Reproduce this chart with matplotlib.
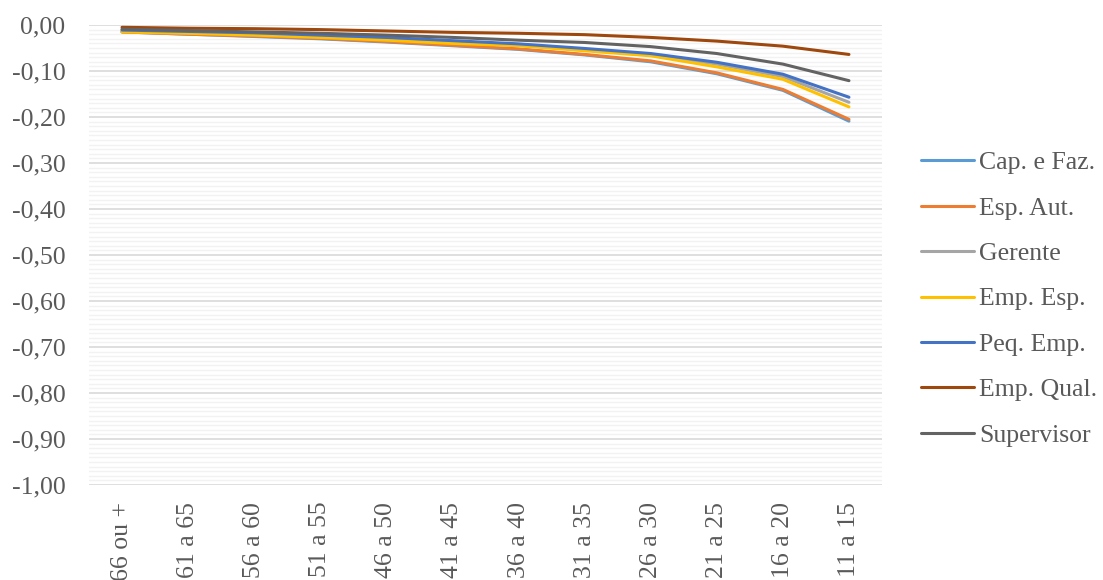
import numpy as np
import matplotlib.pyplot as plt
from matplotlib.ticker import MultipleLocator, FuncFormatter

faixas = ['66 ou +', '61 a 65', '56 a 60', '51 a 55', '46 a 50', '41 a 45',
          '36 a 40', '31 a 35', '26 a 30', '21 a 25', '16 a 20', '11 a 15']

cap_faz = [-0.015, -0.020, -0.025, -0.030, -0.037, -0.045, -0.053, -0.065, -0.080, -0.106, -0.142, -0.209]
esp_aut = [-0.015, -0.020, -0.024, -0.029, -0.036, -0.044, -0.052, -0.064, -0.078, -0.104, -0.140, -0.205]
gerente = [-0.013, -0.017, -0.021, -0.026, -0.031, -0.038, -0.044, -0.053, -0.064, -0.085, -0.112, -0.168]
emp_esp = [-0.015, -0.018, -0.022, -0.027, -0.033, -0.040, -0.045, -0.056, -0.067, -0.091, -0.118, -0.178]
peq_emp = [-0.011, -0.014, -0.017, -0.022, -0.027, -0.034, -0.041, -0.051, -0.062, -0.081, -0.107, -0.157]
emp_qual = [-0.005, -0.007, -0.008, -0.010, -0.013, -0.016, -0.018, -0.021, -0.027, -0.035, -0.046, -0.064]
supervisor = [-0.009, -0.012, -0.015, -0.018, -0.022, -0.027, -0.033, -0.038, -0.047, -0.062, -0.085, -0.121]

series = [
    ('Cap. e Faz.', cap_faz, '#5B9BD5'),
    ('Esp. Aut.', esp_aut, '#ED7D31'),
    ('Gerente', gerente, '#A5A5A5'),
    ('Emp. Esp.', emp_esp, '#FFC000'),
    ('Peq. Emp.', peq_emp, '#4472C4'),
    ('Emp. Qual.', emp_qual, '#9E480E'),
    ('Supervisor', supervisor, '#636363'),
]

plt.rcParams['font.family'] = ['Liberation Serif', 'DejaVu Serif']

fig = plt.figure(figsize=(11.03, 5.8), dpi=100)
ax = fig.add_axes([89 / 1103, 1 - 485 / 580, (882 - 89) / 1103, 460 / 580])

x = np.arange(len(faixas))
for nome, vals, cor in series:
    ax.plot(x, vals, color=cor, lw=2.2, label=nome, solid_capstyle='round')

ax.set_xlim(-0.5, len(faixas) - 0.5)
ax.set_ylim(-1.0, 0.0)
ax.yaxis.set_major_locator(MultipleLocator(0.1))
ax.yaxis.set_minor_locator(MultipleLocator(0.01))
ax.yaxis.set_major_formatter(FuncFormatter(lambda v, p: f'{v:.2f}'.replace('.', ',').replace('-0,00', '0,00')))
ax.grid(axis='y', which='major', color='#D9D9D9', lw=1.2)
ax.grid(axis='y', which='minor', color='#F2F2F2', lw=1.0)
ax.set_axisbelow(True)

for s in ax.spines.values():
    s.set_visible(False)
ax.tick_params(axis='both', which='both', length=0, labelsize=18.5, colors='#595959')
ax.tick_params(axis='y', pad=17)
ax.tick_params(axis='x', pad=12)
ax.set_xticks(x)
ax.set_xticklabels(faixas, rotation=90)

leg = ax.legend(loc='center left', bbox_to_anchor=(911 / 1103, 1 - 299 / 580),
                bbox_transform=fig.transFigure, frameon=False, fontsize=18.5,
                handlelength=2.05, handletextpad=0.2, labelspacing=0.87,
                borderaxespad=0)
for t in leg.get_texts():
    t.set_color('#595959')

fig.savefig('out.png', dpi=100)
